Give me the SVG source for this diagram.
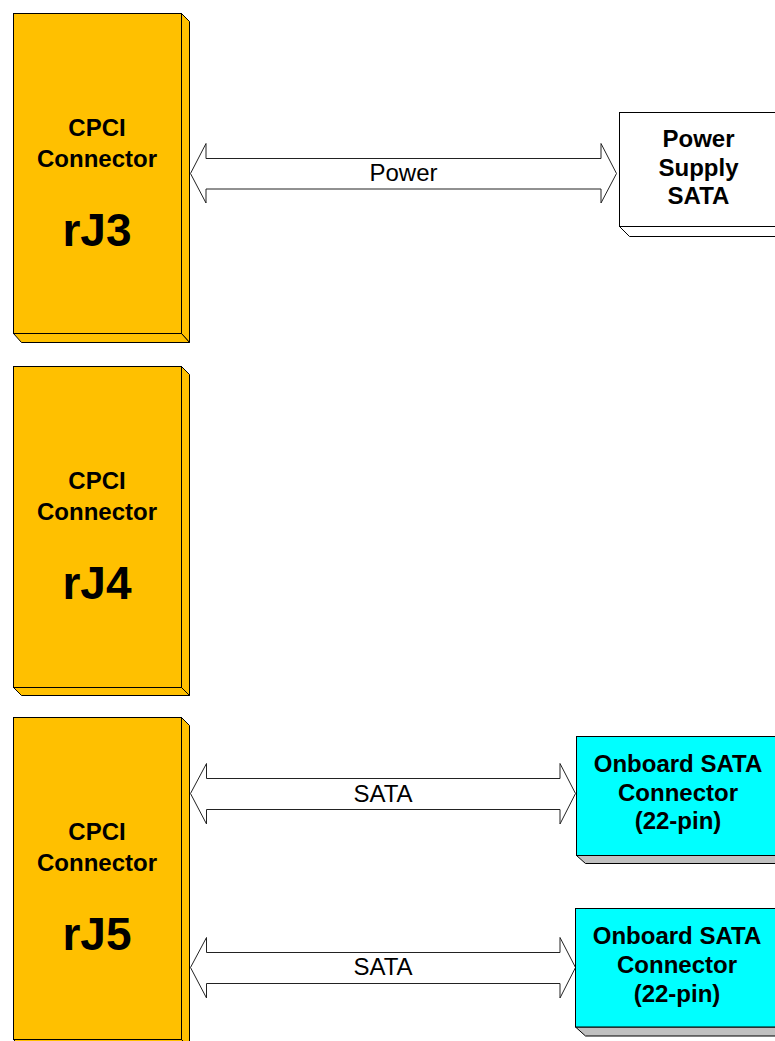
<svg xmlns="http://www.w3.org/2000/svg" width="775" height="1041" viewBox="0 0 775 1041">
<defs>
<style>
.yel{fill:#FFC000;stroke:#000;stroke-width:1}
.cy{fill:#00FFFF;stroke:#000;stroke-width:1}
.sh{fill:#C0C0C0;stroke:#000;stroke-width:1}
.wh{fill:#FFFFFF;stroke:#000;stroke-width:1}
.arr{fill:#FFFFFF;stroke:#222;stroke-width:1;stroke-linejoin:miter}
.b{font-family:"Liberation Sans",Arial,sans-serif;font-weight:bold;font-size:24px;fill:#000;text-anchor:middle}
.big{font-family:"Liberation Sans",Arial,sans-serif;font-weight:bold;font-size:46px;fill:#000;text-anchor:middle}
.lbl{font-family:"Liberation Sans",Arial,sans-serif;font-size:24px;fill:#000;text-anchor:middle}
</style>
</defs>
<rect width="775" height="1041" fill="#FFFFFF"/>
<g id="connectors">
<path class="arr" d="M190.5,173.5 L206,143.5 L206,158.5 L601,158.5 L601,143.5 L616.5,173.5 L601,203 L601,189 L206,189 L206,203 Z"/>
<text class="lbl" x="403.5" y="181">Power</text>
<path class="arr" d="M190.5,793.5 L206.5,763.5 L206.5,778.5 L560,778.5 L560,763.5 L575.5,793.5 L560,824 L560,809.5 L206.5,809.5 L206.5,824 Z"/>
<text class="lbl" x="383" y="802">SATA</text>
<path class="arr" d="M190.5,967.5 L206.5,937.5 L206.5,952.5 L560,952.5 L560,937.5 L575.5,967.5 L560,998 L560,983.5 L206.5,983.5 L206.5,998 Z"/>
<text class="lbl" x="383" y="975">SATA</text>
</g>
<g id="rJ3">
<polygon class="yel" points="181.5,13.5 189.5,21.5 189.5,342.5 181.5,333.5"/>
<polygon class="yel" points="13.5,333.5 181.5,333.5 189.5,342.5 21.5,342.5"/>
<rect class="yel" x="13.5" y="13.5" width="168" height="320"/>
<text class="b" x="97" y="136">CPCI</text>
<text class="b" x="97" y="167">Connector</text>
<text class="big" x="97" y="246">rJ3</text>
</g>
<g id="rJ4">
<polygon class="yel" points="181.5,366.5 189.5,374.5 189.5,695.5 181.5,687.5"/>
<polygon class="yel" points="13.5,687.5 181.5,687.5 189.5,695.5 21.5,695.5"/>
<rect class="yel" x="13.5" y="366.5" width="168" height="321"/>
<text class="b" x="97" y="489">CPCI</text>
<text class="b" x="97" y="520">Connector</text>
<text class="big" x="97" y="599">rJ4</text>
</g>
<g id="rJ5">
<polygon class="yel" points="181.5,717.5 189.5,725.5 189.5,1048 181.5,1039.5"/>
<polygon class="yel" points="13.5,1039.5 181.5,1039.5 189.5,1048 21.5,1048"/>
<rect class="yel" x="13.5" y="717.5" width="168" height="322"/>
<text class="b" x="97" y="840">CPCI</text>
<text class="b" x="97" y="871">Connector</text>
<text class="big" x="97" y="950">rJ5</text>
</g>
<g id="power-supply">
<polygon class="wh" points="619.5,226.5 629.5,236.5 790,236.5 790,226.5"/>
<rect class="wh" x="619.5" y="112.5" width="170" height="114"/>
<text class="b" x="698.5" y="147">Power</text>
<text class="b" x="698.5" y="175.5">Supply</text>
<text class="b" x="698.5" y="204">SATA</text>
</g>
<g id="sata1">
<polygon class="sh" points="576.5,855.5 585.5,863.5 790,863.5 790,855.5"/>
<rect class="cy" x="576.5" y="736.5" width="213" height="119"/>
<text class="b" x="678" y="772">Onboard SATA</text>
<text class="b" x="678" y="800.5">Connector</text>
<text class="b" x="678" y="829">(22-pin)</text>
</g>
<g id="sata2">
<polygon class="sh" points="575.5,1027 585.5,1036 790,1036 790,1027"/>
<rect class="cy" x="575.5" y="908.5" width="214" height="118.5"/>
<text class="b" x="677" y="944">Onboard SATA</text>
<text class="b" x="677" y="973">Connector</text>
<text class="b" x="677" y="1002">(22-pin)</text>
</g>
</svg>
